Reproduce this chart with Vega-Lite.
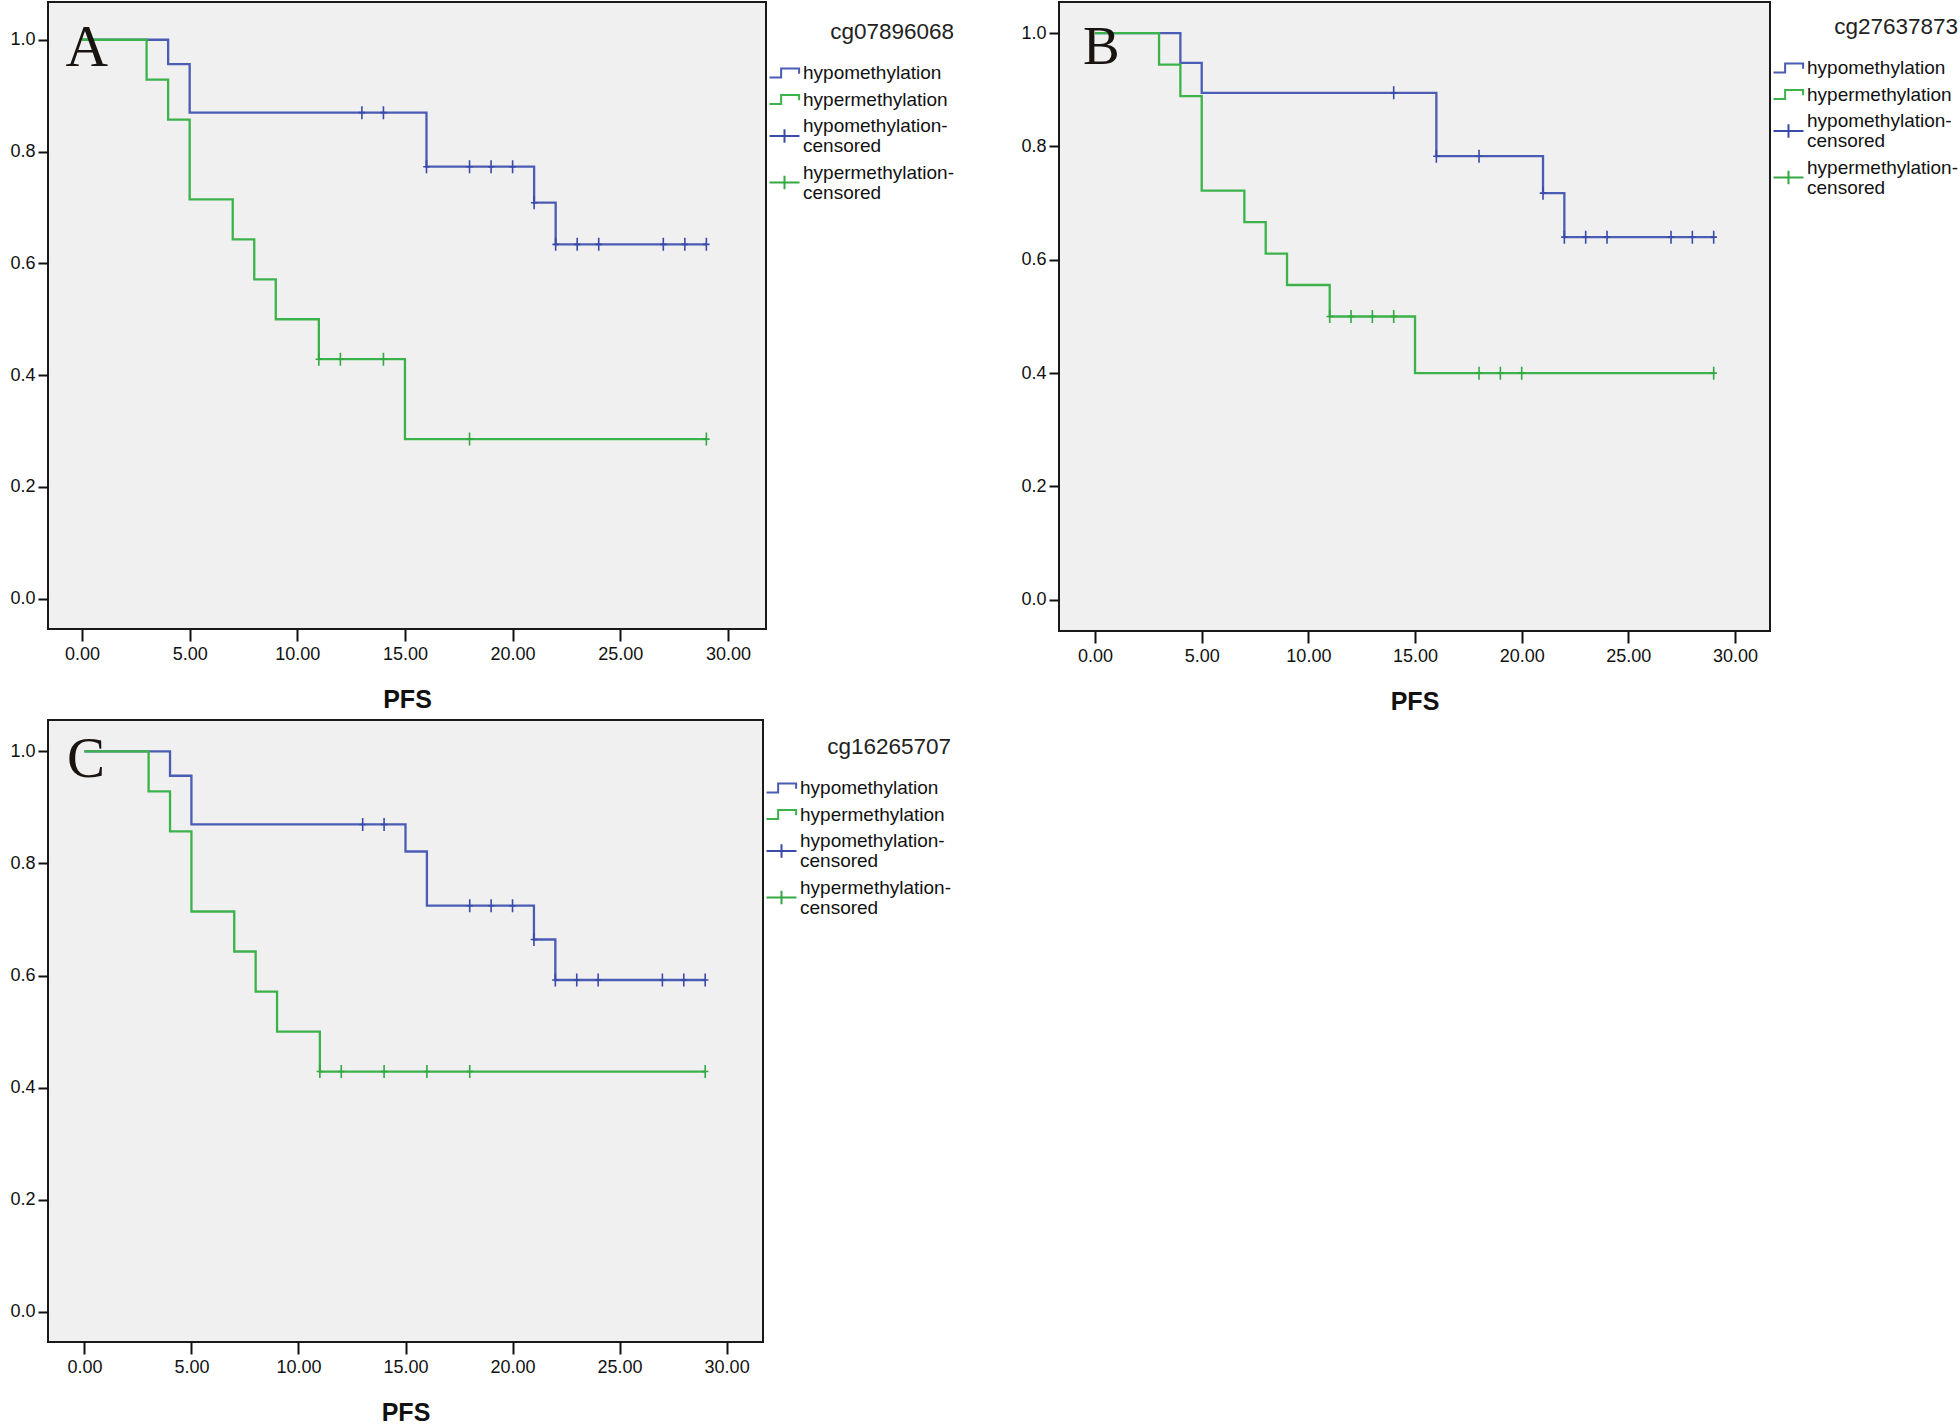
{
  "$schema": "https://vega.github.io/schema/vega-lite/v6.json",
  "background": "white",
  "padding": {"left": 8, "top": 1, "right": 0, "bottom": 0},
  "datasets": {
    "km": [
      {"p": "A", "s": "hypomethylation", "t": 0, "v": 1},
      {"p": "A", "s": "hypomethylation", "t": 4, "v": 0.9565},
      {"p": "A", "s": "hypomethylation", "t": 5, "v": 0.8696},
      {"p": "A", "s": "hypomethylation", "t": 16, "v": 0.7729},
      {"p": "A", "s": "hypomethylation", "t": 21, "v": 0.7085},
      {"p": "A", "s": "hypomethylation", "t": 22, "v": 0.634},
      {"p": "A", "s": "hypomethylation", "t": 29, "v": 0.634},
      {"p": "A", "s": "hypermethylation", "t": 0, "v": 1},
      {"p": "A", "s": "hypermethylation", "t": 3, "v": 0.9286},
      {"p": "A", "s": "hypermethylation", "t": 4, "v": 0.8571},
      {"p": "A", "s": "hypermethylation", "t": 5, "v": 0.7143},
      {"p": "A", "s": "hypermethylation", "t": 7, "v": 0.6429},
      {"p": "A", "s": "hypermethylation", "t": 8, "v": 0.5714},
      {"p": "A", "s": "hypermethylation", "t": 9, "v": 0.5},
      {"p": "A", "s": "hypermethylation", "t": 11, "v": 0.4286},
      {"p": "A", "s": "hypermethylation", "t": 15, "v": 0.2857},
      {"p": "A", "s": "hypermethylation", "t": 29, "v": 0.2857},
      {"p": "B", "s": "hypomethylation", "t": 0, "v": 1},
      {"p": "B", "s": "hypomethylation", "t": 4, "v": 0.9474},
      {"p": "B", "s": "hypomethylation", "t": 5, "v": 0.8947},
      {"p": "B", "s": "hypomethylation", "t": 16, "v": 0.7829},
      {"p": "B", "s": "hypomethylation", "t": 21, "v": 0.7177},
      {"p": "B", "s": "hypomethylation", "t": 22, "v": 0.64},
      {"p": "B", "s": "hypomethylation", "t": 29, "v": 0.64},
      {"p": "B", "s": "hypermethylation", "t": 0, "v": 1},
      {"p": "B", "s": "hypermethylation", "t": 3, "v": 0.9444},
      {"p": "B", "s": "hypermethylation", "t": 4, "v": 0.8889},
      {"p": "B", "s": "hypermethylation", "t": 5, "v": 0.7222},
      {"p": "B", "s": "hypermethylation", "t": 7, "v": 0.6667},
      {"p": "B", "s": "hypermethylation", "t": 8, "v": 0.6111},
      {"p": "B", "s": "hypermethylation", "t": 9, "v": 0.5556},
      {"p": "B", "s": "hypermethylation", "t": 11, "v": 0.5},
      {"p": "B", "s": "hypermethylation", "t": 15, "v": 0.4},
      {"p": "B", "s": "hypermethylation", "t": 29, "v": 0.4},
      {"p": "C", "s": "hypomethylation", "t": 0, "v": 1},
      {"p": "C", "s": "hypomethylation", "t": 4, "v": 0.9565},
      {"p": "C", "s": "hypomethylation", "t": 5, "v": 0.8696},
      {"p": "C", "s": "hypomethylation", "t": 15, "v": 0.8213},
      {"p": "C", "s": "hypomethylation", "t": 16, "v": 0.7246},
      {"p": "C", "s": "hypomethylation", "t": 21, "v": 0.6643},
      {"p": "C", "s": "hypomethylation", "t": 22, "v": 0.592},
      {"p": "C", "s": "hypomethylation", "t": 29, "v": 0.592},
      {"p": "C", "s": "hypermethylation", "t": 0, "v": 1},
      {"p": "C", "s": "hypermethylation", "t": 3, "v": 0.9286},
      {"p": "C", "s": "hypermethylation", "t": 4, "v": 0.8571},
      {"p": "C", "s": "hypermethylation", "t": 5, "v": 0.7143},
      {"p": "C", "s": "hypermethylation", "t": 7, "v": 0.6429},
      {"p": "C", "s": "hypermethylation", "t": 8, "v": 0.5714},
      {"p": "C", "s": "hypermethylation", "t": 9, "v": 0.5},
      {"p": "C", "s": "hypermethylation", "t": 11, "v": 0.4286},
      {"p": "C", "s": "hypermethylation", "t": 29, "v": 0.4286}
    ],
    "cens": [
      {"p": "A", "s": "hypomethylation-censored", "t": 13, "v": 0.8696},
      {"p": "A", "s": "hypomethylation-censored", "t": 14, "v": 0.8696},
      {"p": "A", "s": "hypomethylation-censored", "t": 16, "v": 0.7729},
      {"p": "A", "s": "hypomethylation-censored", "t": 18, "v": 0.7729},
      {"p": "A", "s": "hypomethylation-censored", "t": 19, "v": 0.7729},
      {"p": "A", "s": "hypomethylation-censored", "t": 20, "v": 0.7729},
      {"p": "A", "s": "hypomethylation-censored", "t": 21, "v": 0.7085},
      {"p": "A", "s": "hypomethylation-censored", "t": 22, "v": 0.634},
      {"p": "A", "s": "hypomethylation-censored", "t": 23, "v": 0.634},
      {"p": "A", "s": "hypomethylation-censored", "t": 24, "v": 0.634},
      {"p": "A", "s": "hypomethylation-censored", "t": 27, "v": 0.634},
      {"p": "A", "s": "hypomethylation-censored", "t": 28, "v": 0.634},
      {"p": "A", "s": "hypomethylation-censored", "t": 29, "v": 0.634},
      {"p": "A", "s": "hypermethylation-censored", "t": 11, "v": 0.4286},
      {"p": "A", "s": "hypermethylation-censored", "t": 12, "v": 0.4286},
      {"p": "A", "s": "hypermethylation-censored", "t": 14, "v": 0.4286},
      {"p": "A", "s": "hypermethylation-censored", "t": 18, "v": 0.2857},
      {"p": "A", "s": "hypermethylation-censored", "t": 29, "v": 0.2857},
      {"p": "B", "s": "hypomethylation-censored", "t": 14, "v": 0.8947},
      {"p": "B", "s": "hypomethylation-censored", "t": 16, "v": 0.7829},
      {"p": "B", "s": "hypomethylation-censored", "t": 18, "v": 0.7829},
      {"p": "B", "s": "hypomethylation-censored", "t": 21, "v": 0.7177},
      {"p": "B", "s": "hypomethylation-censored", "t": 22, "v": 0.64},
      {"p": "B", "s": "hypomethylation-censored", "t": 23, "v": 0.64},
      {"p": "B", "s": "hypomethylation-censored", "t": 24, "v": 0.64},
      {"p": "B", "s": "hypomethylation-censored", "t": 27, "v": 0.64},
      {"p": "B", "s": "hypomethylation-censored", "t": 28, "v": 0.64},
      {"p": "B", "s": "hypomethylation-censored", "t": 29, "v": 0.64},
      {"p": "B", "s": "hypermethylation-censored", "t": 11, "v": 0.5},
      {"p": "B", "s": "hypermethylation-censored", "t": 12, "v": 0.5},
      {"p": "B", "s": "hypermethylation-censored", "t": 13, "v": 0.5},
      {"p": "B", "s": "hypermethylation-censored", "t": 14, "v": 0.5},
      {"p": "B", "s": "hypermethylation-censored", "t": 18, "v": 0.4},
      {"p": "B", "s": "hypermethylation-censored", "t": 19, "v": 0.4},
      {"p": "B", "s": "hypermethylation-censored", "t": 20, "v": 0.4},
      {"p": "B", "s": "hypermethylation-censored", "t": 29, "v": 0.4},
      {"p": "C", "s": "hypomethylation-censored", "t": 13, "v": 0.8696},
      {"p": "C", "s": "hypomethylation-censored", "t": 14, "v": 0.8696},
      {"p": "C", "s": "hypomethylation-censored", "t": 18, "v": 0.7246},
      {"p": "C", "s": "hypomethylation-censored", "t": 19, "v": 0.7246},
      {"p": "C", "s": "hypomethylation-censored", "t": 20, "v": 0.7246},
      {"p": "C", "s": "hypomethylation-censored", "t": 21, "v": 0.6643},
      {"p": "C", "s": "hypomethylation-censored", "t": 22, "v": 0.592},
      {"p": "C", "s": "hypomethylation-censored", "t": 23, "v": 0.592},
      {"p": "C", "s": "hypomethylation-censored", "t": 24, "v": 0.592},
      {"p": "C", "s": "hypomethylation-censored", "t": 27, "v": 0.592},
      {"p": "C", "s": "hypomethylation-censored", "t": 28, "v": 0.592},
      {"p": "C", "s": "hypomethylation-censored", "t": 29, "v": 0.592},
      {"p": "C", "s": "hypermethylation-censored", "t": 11, "v": 0.4286},
      {"p": "C", "s": "hypermethylation-censored", "t": 12, "v": 0.4286},
      {"p": "C", "s": "hypermethylation-censored", "t": 14, "v": 0.4286},
      {"p": "C", "s": "hypermethylation-censored", "t": 16, "v": 0.4286},
      {"p": "C", "s": "hypermethylation-censored", "t": 18, "v": 0.4286},
      {"p": "C", "s": "hypermethylation-censored", "t": 29, "v": 0.4286}
    ],
    "letters": [
      {"p": "A", "t": 0.22, "v": 0.953, "label": "A"},
      {"p": "B", "t": 0.3, "v": 0.946, "label": "B"},
      {"p": "C", "t": 0.08, "v": 0.954, "label": "C"}
    ]
  },
  "vconcat": [
    {
      "hconcat": [
        {
          "width": 718, "height": 627,
          "layer": [
            {
              "data": {"name": "km"},
              "transform": [{"filter": "datum.p == 'A'"}],
              "mark": {"type": "line", "interpolate": "step-after", "strokeWidth": 2.3},
              "encoding": {
                "x": {"field": "t", "type": "quantitative", "title": "PFS", "scale": {"domain": [-1.58, 31.77], "nice": false, "zero": false}, "axis": {"values": [0, 5, 10, 15, 20, 25, 30], "format": ".2f"}},
                "y": {"field": "v", "type": "quantitative", "title": null, "scale": {"domain": [-0.054, 1.0675], "nice": false, "zero": false}, "axis": {"values": [0, 0.2, 0.4, 0.6, 0.8, 1.0], "format": ".1f"}},
                "color": {"field": "s", "type": "nominal", "scale": {"domain": ["hypomethylation", "hypermethylation", "hypomethylation-censored", "hypermethylation-censored"], "range": ["#4a5cb4", "#3cb34a", "#3a4aa8", "#33a843"]},
                  "legend": {"title": "cg07896068", "legendX": 727, "legendY": 19,
                    "labelExpr": "indexof(datum.label, 'censored') > 0 ? [replace(datum.label, 'censored', ''), 'censored'] : datum.label",
                    "encode": {"labels": {"update": {"lineHeight": {"value": 20}, "dy": {"signal": "indexof(datum.value, 'censored') > 0 ? -10 : 0"}}}, "symbols": {"update": {"shape": {"signal": "indexof(datum.value, 'censored') > 0 ? 'M-2,0H2M0,-0.9V0.9' : 'M-2,0.6H-0.45V-0.6H1.95V0.1'"}, "fill": {"value": "transparent"}, "strokeWidth": {"value": 2}}}}}}
              }
            },
            {
              "data": {"name": "cens"},
              "transform": [{"filter": "datum.p == 'A'"}],
              "mark": {"type": "point", "shape": "M0,-1V1M-0.5,0H0.5", "size": 169, "filled": false, "strokeWidth": 1.6, "opacity": 1},
              "encoding": {
                "x": {"field": "t", "type": "quantitative"},
                "y": {"field": "v", "type": "quantitative"},
                "color": {"field": "s", "type": "nominal"}
              }
            },
            {
              "data": {"name": "letters"},
              "transform": [{"filter": "datum.p == 'A'"}],
              "mark": {"type": "text", "font": "Liberation Serif", "fontSize": 59, "align": "center", "baseline": "alphabetic", "color": "#1a1410"},
              "encoding": {
                "x": {"field": "t", "type": "quantitative"},
                "y": {"field": "v", "type": "quantitative"},
                "text": {"field": "label"}
              }
            }
          ]
        },
        {
          "width": 711, "height": 629,
          "layer": [
            {
              "data": {"name": "km"},
              "transform": [{"filter": "datum.p == 'B'"}],
              "mark": {"type": "line", "interpolate": "step-after", "strokeWidth": 2.3},
              "encoding": {
                "x": {"field": "t", "type": "quantitative", "title": "PFS", "scale": {"domain": [-1.69, 31.64], "nice": false, "zero": false}, "axis": {"values": [0, 5, 10, 15, 20, 25, 30], "format": ".2f"}},
                "y": {"field": "v", "type": "quantitative", "title": null, "scale": {"domain": [-0.055, 1.055], "nice": false, "zero": false}, "axis": {"values": [0, 0.2, 0.4, 0.6, 0.8, 1.0], "format": ".1f"}},
                "color": {"field": "s", "type": "nominal", "scale": {"domain": ["hypomethylation", "hypermethylation", "hypomethylation-censored", "hypermethylation-censored"], "range": ["#4a5cb4", "#3cb34a", "#3a4aa8", "#33a843"]},
                  "legend": {"title": "cg27637873", "legendX": 720, "legendY": 14,
                    "labelExpr": "indexof(datum.label, 'censored') > 0 ? [replace(datum.label, 'censored', ''), 'censored'] : datum.label",
                    "encode": {"labels": {"update": {"lineHeight": {"value": 20}, "dy": {"signal": "indexof(datum.value, 'censored') > 0 ? -10 : 0"}}}, "symbols": {"update": {"shape": {"signal": "indexof(datum.value, 'censored') > 0 ? 'M-2,0H2M0,-0.9V0.9' : 'M-2,0.6H-0.45V-0.6H1.95V0.1'"}, "fill": {"value": "transparent"}, "strokeWidth": {"value": 2}}}}}}
              }
            },
            {
              "data": {"name": "cens"},
              "transform": [{"filter": "datum.p == 'B'"}],
              "mark": {"type": "point", "shape": "M0,-1V1M-0.5,0H0.5", "size": 169, "filled": false, "strokeWidth": 1.6, "opacity": 1},
              "encoding": {
                "x": {"field": "t", "type": "quantitative"},
                "y": {"field": "v", "type": "quantitative"},
                "color": {"field": "s", "type": "nominal"}
              }
            },
            {
              "data": {"name": "letters"},
              "transform": [{"filter": "datum.p == 'B'"}],
              "mark": {"type": "text", "font": "Liberation Serif", "fontSize": 55, "align": "center", "baseline": "alphabetic", "color": "#1a1410"},
              "encoding": {
                "x": {"field": "t", "type": "quantitative"},
                "y": {"field": "v", "type": "quantitative"},
                "text": {"field": "label"}
              }
            }
          ]
        }
      ],
      "spacing": 63,
      "resolve": {"scale": {"color": "independent", "x": "independent", "y": "independent"}, "legend": {"color": "independent"}}
    },
    {
      "width": 715, "height": 622,
      "layer": [
        {
          "data": {"name": "km"},
          "transform": [{"filter": "datum.p == 'C'"}],
          "mark": {"type": "line", "interpolate": "step-after", "strokeWidth": 2.3},
          "encoding": {
            "x": {"field": "t", "type": "quantitative", "title": "PFS", "scale": {"domain": [-1.7, 31.7], "nice": false, "zero": false}, "axis": {"values": [0, 5, 10, 15, 20, 25, 30], "format": ".2f"}},
            "y": {"field": "v", "type": "quantitative", "title": null, "scale": {"domain": [-0.054, 1.056], "nice": false, "zero": false}, "axis": {"values": [0, 0.2, 0.4, 0.6, 0.8, 1.0], "format": ".1f"}},
            "color": {"field": "s", "type": "nominal", "scale": {"domain": ["hypomethylation", "hypermethylation", "hypomethylation-censored", "hypermethylation-censored"], "range": ["#4a5cb4", "#3cb34a", "#3a4aa8", "#33a843"]},
              "legend": {"title": "cg16265707", "legendX": 724, "legendY": 16,
                "labelExpr": "indexof(datum.label, 'censored') > 0 ? [replace(datum.label, 'censored', ''), 'censored'] : datum.label",
                "encode": {"labels": {"update": {"lineHeight": {"value": 20}, "dy": {"signal": "indexof(datum.value, 'censored') > 0 ? -10 : 0"}}}, "symbols": {"update": {"shape": {"signal": "indexof(datum.value, 'censored') > 0 ? 'M-2,0H2M0,-0.9V0.9' : 'M-2,0.6H-0.45V-0.6H1.95V0.1'"}, "fill": {"value": "transparent"}, "strokeWidth": {"value": 2}}}}}}
          }
        },
        {
          "data": {"name": "cens"},
          "transform": [{"filter": "datum.p == 'C'"}],
          "mark": {"type": "point", "shape": "M0,-1V1M-0.5,0H0.5", "size": 169, "filled": false, "strokeWidth": 1.6, "opacity": 1},
          "encoding": {
            "x": {"field": "t", "type": "quantitative"},
            "y": {"field": "v", "type": "quantitative"},
            "color": {"field": "s", "type": "nominal"}
          }
        },
        {
          "data": {"name": "letters"},
          "transform": [{"filter": "datum.p == 'C'"}],
          "mark": {"type": "text", "font": "Liberation Serif", "fontSize": 57, "align": "center", "baseline": "alphabetic", "color": "#1a1410"},
          "encoding": {
            "x": {"field": "t", "type": "quantitative"},
            "y": {"field": "v", "type": "quantitative"},
            "text": {"field": "label"}
          }
        }
      ]
    }
  ],
  "spacing": 4,
  "resolve": {"scale": {"color": "independent", "x": "independent", "y": "independent"}, "legend": {"color": "independent"}},
  "config": {
    "view": {"stroke": "#1a1a1a", "strokeWidth": 2, "fill": "#f0f0f0"},
    "axis": {"domain": false, "grid": false, "labelFont": "Liberation Sans", "labelFontSize": 18, "labelColor": "#111", "tickColor": "#111", "tickWidth": 2, "titleFont": "Liberation Sans", "titleFontSize": 25, "titleFontWeight": "bold", "titleColor": "#111"},
    "axisX": {"tickSize": 12, "labelPadding": 4, "titlePadding": 24},
    "axisY": {"tickSize": 10, "labelPadding": 3},
    "legend": {"orient": "none", "titleFont": "Liberation Sans", "titleFontSize": 22.5, "titleFontWeight": "normal", "titleAnchor": "end", "titleColor": "#222", "titlePadding": 20, "labelFont": "Liberation Sans", "labelFontSize": 19, "labelColor": "#111", "labelOffset": 9, "labelLimit": 400, "symbolSize": 225, "symbolStrokeWidth": 2, "rowPadding": 6.5, "padding": 0}
  }
}
